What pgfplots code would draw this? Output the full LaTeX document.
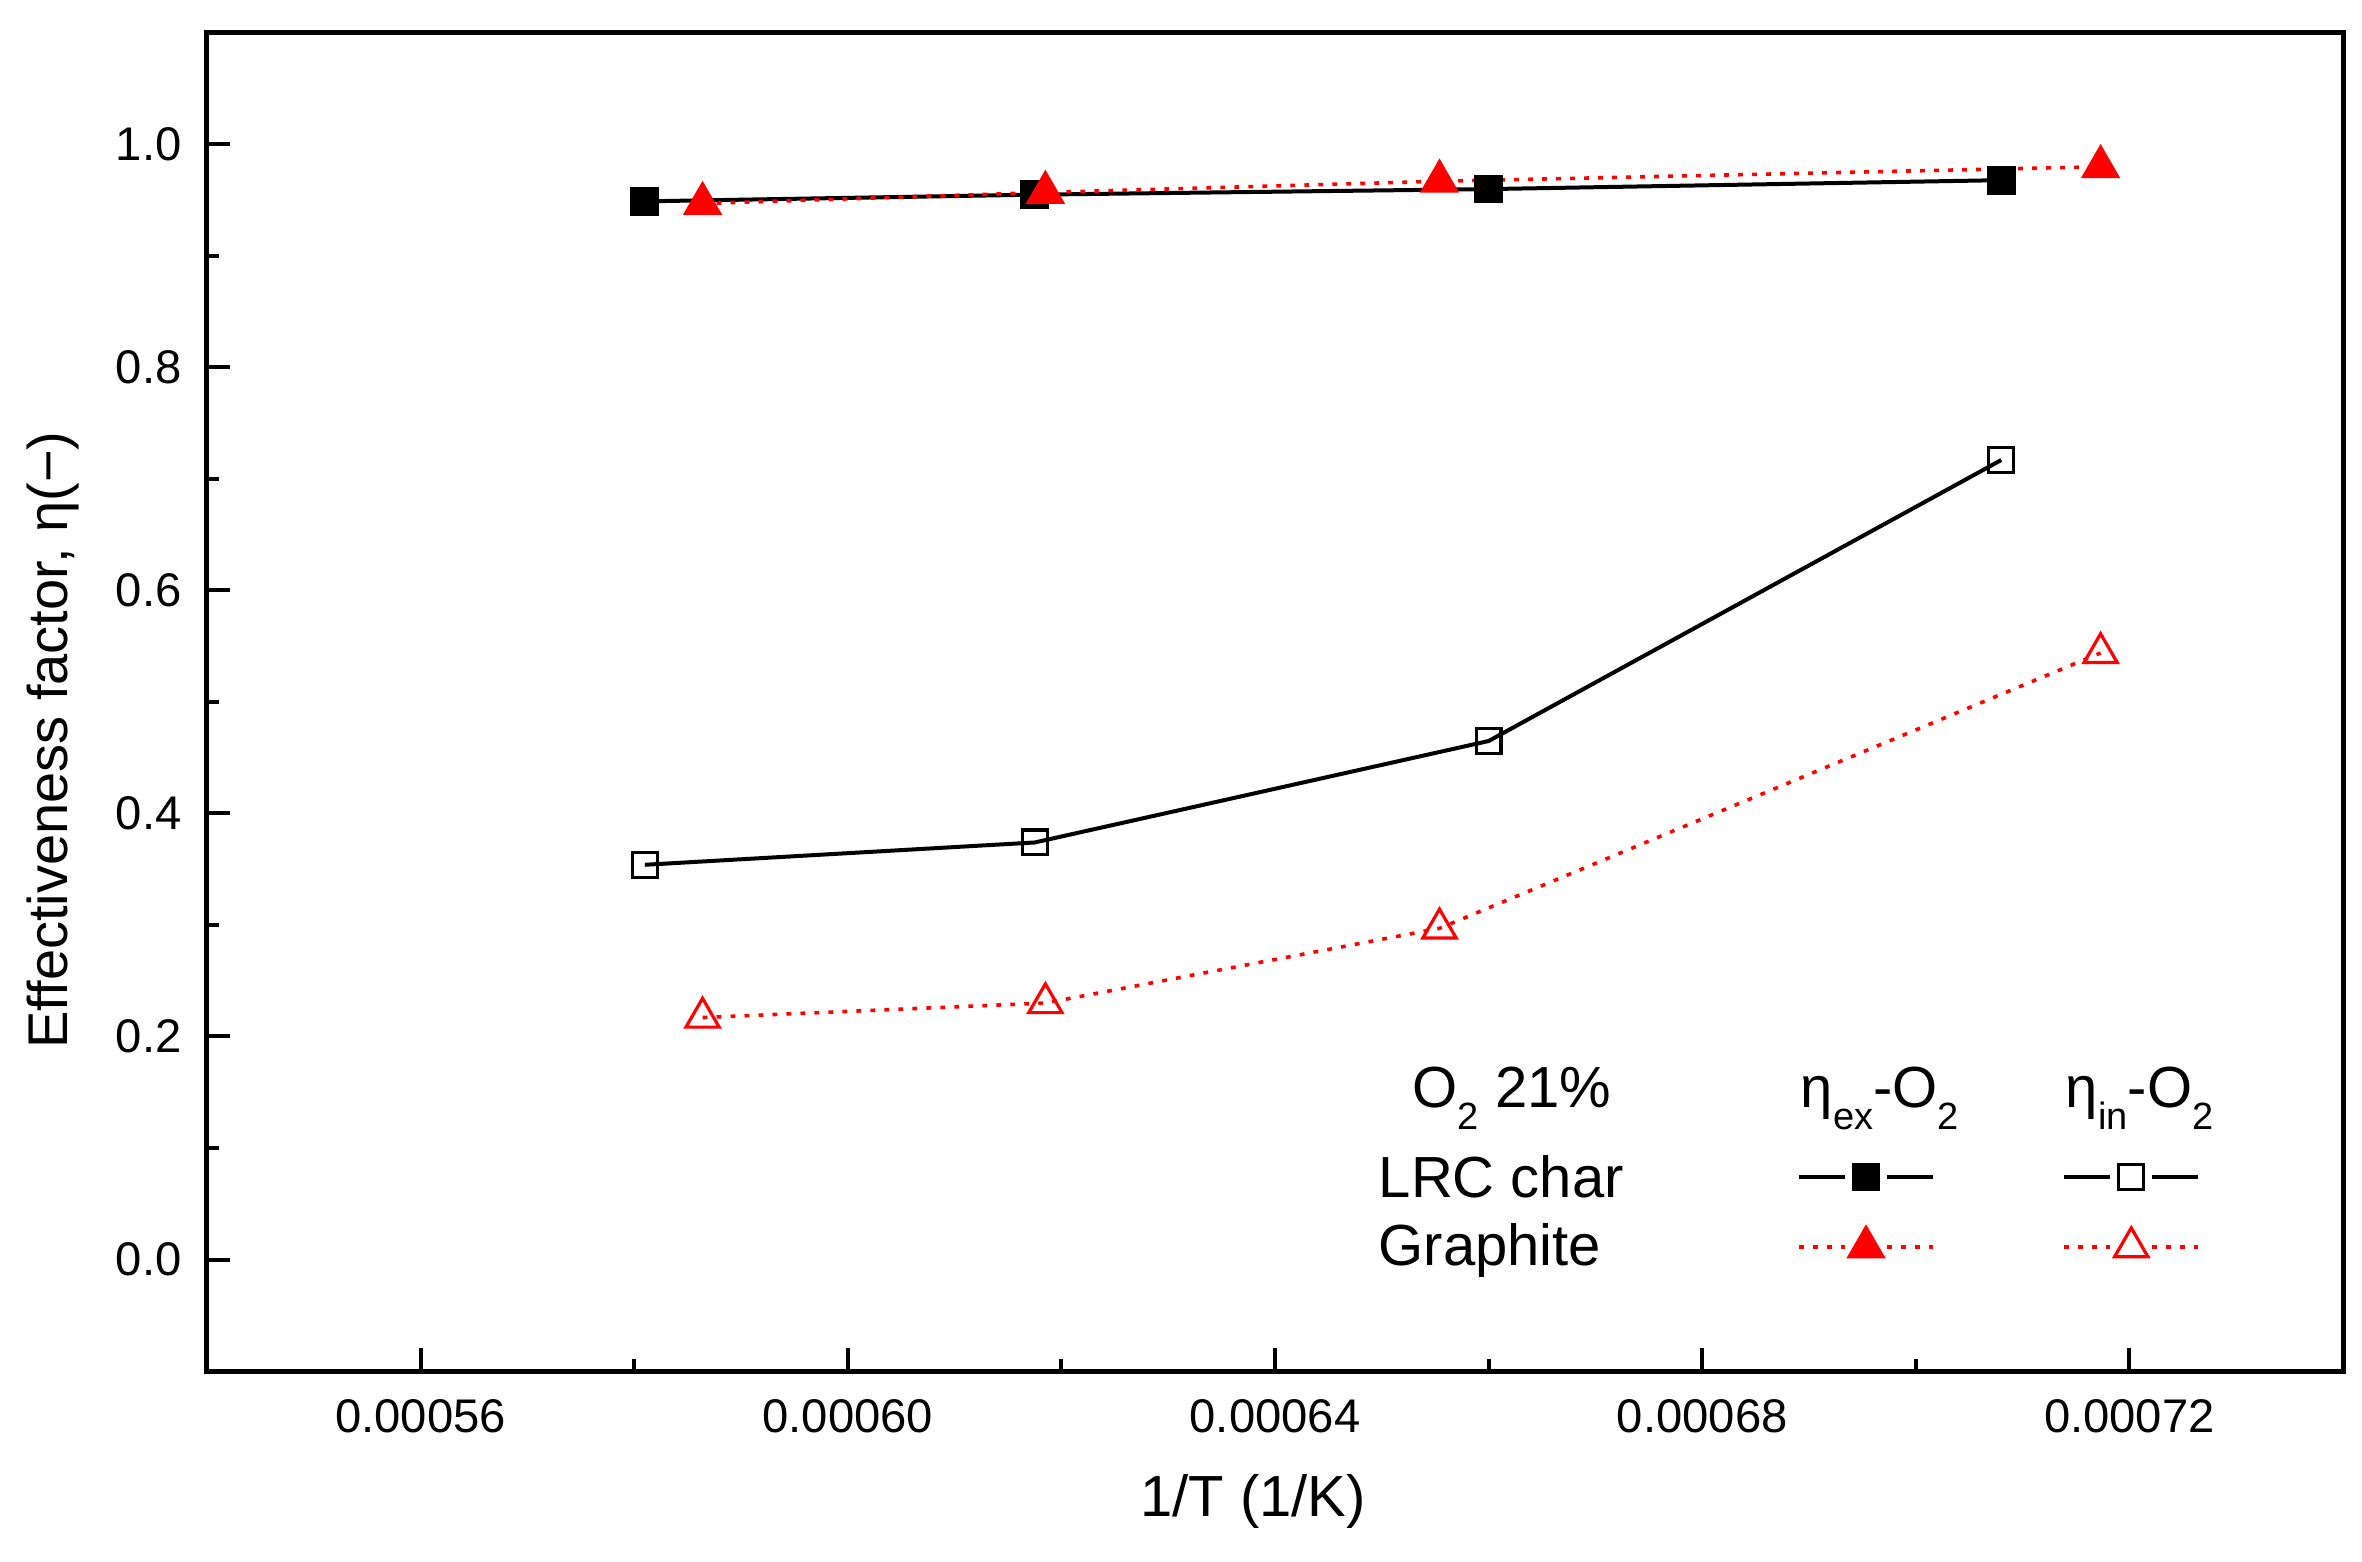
\documentclass[border=0pt]{standalone}
\usepackage{fontspec}
\setmainfont{Liberation Sans}
\usepackage{pgfplots}
\pgfplotsset{compat=1.18}
\newcommand\lsub[1]{\raisebox{-5.5pt}{\fontsize{9.5pt}{10pt}\selectfont #1}}
\pgfplotsset{
  gaplegend/.style={legend image code/.code={
    \path[draw=none, fill=none] (0pt,-8.75pt) rectangle (33.5pt,8.75pt);
    \draw[mark=none] (0pt,0pt) -- (11.5pt,0pt) (22pt,0pt) -- (33.5pt,0pt);
    \draw plot[only marks] coordinates {(16.75pt,0pt)};
  }},
}
\begin{document}
\begin{tikzpicture}
\path[use as bounding box] (-51.75pt,-47.5pt) rectangle (538.75pt,342.75pt);
\begin{axis}[
  at={(0pt,0pt)}, anchor=south west,
  scale only axis, width=534pt, height=334.5pt,
  xmin=0.00054, xmax=0.00074, ymin=-0.1, ymax=1.1,
  tick pos=left, tick align=inside,
  xtick={0.00056,0.00060,0.00064,0.00068,0.00072},
  xticklabels={0.00056,0.00060,0.00064,0.00068,0.00072},
  minor xtick={0.00058,0.00062,0.00066,0.00070},
  ytick={0,0.2,0.4,0.6,0.8,1.0},
  yticklabels={0.0,0.2,0.4,0.6,0.8,1.0},
  minor ytick={0.1,0.3,0.5,0.7,0.9},
  scaled x ticks=false,
  major tick length=5.8pt, minor tick length=3pt,
  every tick/.style={black, line width=1pt},
  axis line style={line width=1.25pt},
  tick label style={font=\fontsize{11.8pt}{14pt}\selectfont},
  xticklabel style={yshift=-3.6pt},
  yticklabel style={xshift=-2.85pt},
  /pgf/number format/assume math mode=true,
  xlabel={1/T (1/K)},
  xlabel style={at={(axis description cs:0.4897,-0.1091)}, anchor=base, font=\fontsize{14.5pt}{17pt}\selectfont},
  ylabel={Effectiveness factor, η(−)},
  ylabel style={at={(axis description cs:-0.0655,0.4716)}, anchor=base, font=\fontsize{14pt}{17pt}\selectfont},
  legend columns=2,
  legend style={at={(axis description cs:0.7444,0.1711)}, anchor=north west,
    draw=none, fill=none, inner sep=0pt, inner xsep=0pt, inner ysep=0pt, outer sep=0pt,
    nodes={inner sep=0pt, text depth=0pt}, column sep=15.4pt, row sep=0pt, cells={anchor=center}},
]
\addplot[black, line width=1pt, mark=square*, mark size=3.1pt, mark options={solid}, forget plot]
  coordinates {(0.000581,0.949) (0.0006175,0.955) (0.00066,0.960) (0.000708,0.968)};
\addplot[black, line width=1pt, mark=square, mark size=3.1pt, mark options={solid, fill=white, line width=0.8pt}, forget plot]
  coordinates {(0.000581,0.354) (0.0006175,0.374) (0.00066,0.465) (0.000708,0.717)};
\addplot[red, line width=0.9pt, dash pattern=on 1.2pt off 2.3pt, mark=triangle*, mark size=4.8pt, mark options={solid}, forget plot]
  coordinates {(0.0005864,0.947) (0.0006185,0.957) (0.0006554,0.967) (0.0007173,0.980)};
\addplot[red, line width=0.9pt, dash pattern=on 1.2pt off 2.3pt, mark=triangle, mark size=4.8pt, mark options={solid, fill=white, line width=0.8pt}, forget plot]
  coordinates {(0.0005864,0.217) (0.0006185,0.230) (0.0006554,0.297) (0.0007173,0.544)};
\addlegendimage{gaplegend, black, line width=1pt, mark=square*, mark size=3.1pt, mark options={solid}}
\addlegendentry{\hbox{}}
\addlegendimage{gaplegend, black, line width=1pt, mark=square, mark size=3.1pt, mark options={solid, fill=white, line width=0.8pt}}
\addlegendentry{\hbox{}}
\addlegendimage{gaplegend, red, line width=0.9pt, dash pattern=on 1.2pt off 2.3pt, mark=triangle*, mark size=4.8pt, mark options={solid}}
\addlegendentry{\hbox{}}
\addlegendimage{gaplegend, red, line width=0.9pt, dash pattern=on 1.2pt off 2.3pt, mark=triangle, mark size=4.8pt, mark options={solid, fill=white, line width=0.8pt}}
\addlegendentry{\hbox{}}
\node[anchor=base west, inner sep=0pt, font=\fontsize{14.5pt}{17pt}\selectfont] at (axis description cs:0.5641,0.1966) {O\lsub{2} 21\%};
\node[anchor=base west, inner sep=0pt, font=\fontsize{14.5pt}{17pt}\selectfont] at (axis description cs:0.7458,0.1966) {η\lsub{ex}-O\lsub{2}};
\node[anchor=base west, inner sep=0pt, font=\fontsize{14.5pt}{17pt}\selectfont] at (axis description cs:0.8699,0.1966) {η\lsub{in}-O\lsub{2}};
\node[anchor=base west, inner sep=0pt, font=\fontsize{14.5pt}{17pt}\selectfont] at (axis description cs:0.5482,0.1300) {LRC char};
\node[anchor=base west, inner sep=0pt, font=\fontsize{14.5pt}{17pt}\selectfont] at (axis description cs:0.5482,0.0785) {Graphite};
\end{axis}
\end{tikzpicture}
\end{document}
